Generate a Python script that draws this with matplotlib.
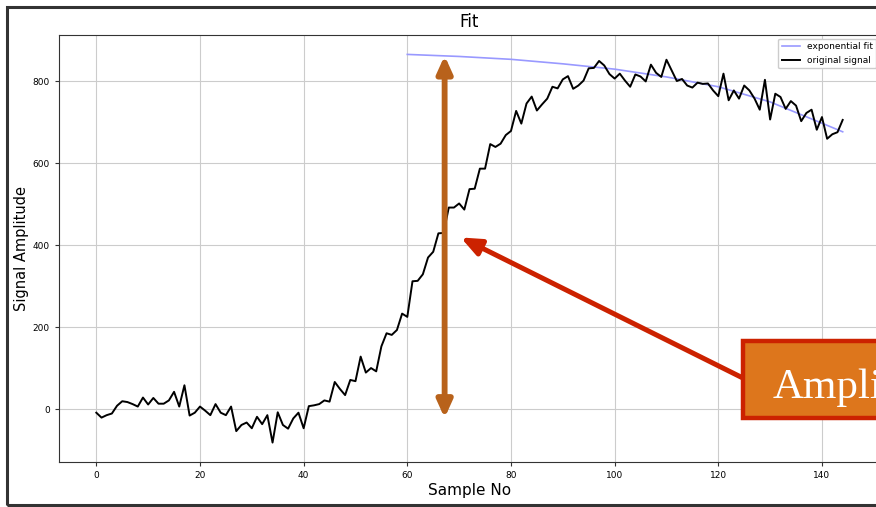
import matplotlib
matplotlib.use("Agg")
import matplotlib.pyplot as plt
from matplotlib.patches import FancyArrowPatch, Rectangle
import numpy as np

# ---- data ----
signal = [
    -9, -21, -15, -11, 8, 19, 17, 12, 6, 28, 11, 27, 13, 13, 21, 42, 6, 58, -16, -9, 6,
    -4, -15, 12, -9, -15, 6, -54, -39, -33, -47, -19, -37, -15, -82, -8, -39, -48, -23, -9, -47,
    7, 9, 12, 21, 18, 66, 49, 34, 71, 68, 128, 89, 100, 92, 153, 185, 181, 193, 233, 225,
    312, 313, 329, 370, 384, 429, 430, 492, 492, 502, 487, 537, 538, 587, 587, 647, 640, 648, 669, 679,
    728, 697, 746, 763, 729, 744, 758, 787, 783, 805, 813, 782, 790, 802, 832, 833, 850, 839, 818, 807,
    819, 802, 787, 817, 812, 800, 841, 821, 811, 853, 827, 801, 806, 790, 785, 797, 794, 795, 778, 764,
    819, 754, 778, 758, 790, 778, 758, 731, 804, 707, 770, 762, 733, 752, 741, 703, 723, 731, 682, 713,
    660, 671, 676, 706,
]
sample_no = list(range(len(signal)))

fit_x = [60, 70, 80, 90, 100, 110, 120, 130, 140, 144]
fit_y = [866, 861, 854, 843, 830, 811, 787, 750, 698, 677]

xticks = [0, 20, 40, 60, 80, 100, 120, 140]
yticks = [0, 200, 400, 600, 800]

# annotation anchors (data units)
amp_x = 67.2
amp_top, amp_bottom = 863, -22
red_tip = (70.3, 419)
red_tail = (124.7, 76)
box_label = "Amplitude"

# ---- figure ----
W, H = 876, 507
fig = plt.figure(figsize=(W / 100, H / 100), dpi=100)
ax = fig.add_axes([59 / W, (H - 462) / H, (880 - 59) / W, (462 - 35) / H])

ax.plot(fit_x, fit_y, color=(0.6, 0.6, 1.0), lw=1.2, label="exponential fit")
ax.plot(sample_no, signal, color="black", lw=1.4, label="original signal")

ax.set_xticks(xticks)
ax.set_yticks(yticks)
ax.set_xlim(-7.2, 151.2)
ax.tick_params(labelsize=6.5, length=3, width=0.8, color="#333333")
ax.grid(True, color="#cccccc", lw=0.8)
ax.set_title("Fit", fontsize=12)
ax.set_xlabel("Sample No", fontsize=11, labelpad=2)
ax.set_ylabel("Signal Amplitude", fontsize=10.5, labelpad=3)
for s in ax.spines.values():
    s.set_color("#333333")
    s.set_linewidth(0.8)
ax.spines["right"].set_visible(False)

ax.legend(loc="upper right", fontsize=6.5, framealpha=1.0, borderaxespad=0.4)

# orange double arrow
orange = "#B8621B"
arr = FancyArrowPatch((amp_x, amp_bottom), (amp_x, amp_top),
                      arrowstyle="<|-|>,head_length=10,head_width=4.5",
                      mutation_scale=1, shrinkA=0, shrinkB=0,
                      color=orange, lw=4.2, zorder=6, clip_on=False)
ax.add_patch(arr)

# red arrow
red = "#CC2200"
arr2 = FancyArrowPatch(red_tail, red_tip,
                       arrowstyle="-|>,head_length=12,head_width=5",
                       mutation_scale=1, shrinkA=0, shrinkB=0,
                       color=red, lw=3.6, zorder=6, clip_on=False)
ax.add_patch(arr2)

# label box (cut off at right edge like the reference)
box = Rectangle((743 / W, (H - 418) / H), 0.3, 77 / H, transform=fig.transFigure,
                facecolor="#DD761C", edgecolor=red, lw=3.2, zorder=10, clip_on=False)
fig.add_artist(box)
fig.text(773 / W, (H - 398) / H, box_label, fontsize=31, family="Liberation Serif",
         color="white", va="baseline", ha="left", zorder=11)

# outer screenshot border
border = Rectangle((7 / W, 2 / H), 1.0, (505 - 7) / H, transform=fig.transFigure,
                   facecolor="none", edgecolor="#333333", lw=2.2, zorder=20, clip_on=False)
fig.add_artist(border)

fig.savefig("out.png", dpi=100)
